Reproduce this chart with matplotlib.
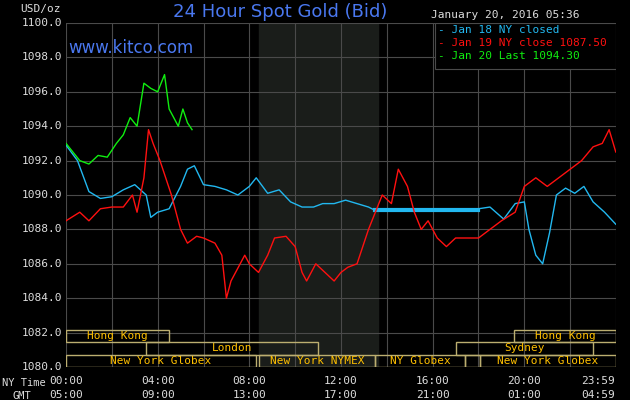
import matplotlib
matplotlib.use("Agg")
import matplotlib.pyplot as plt
from matplotlib.patches import Rectangle

# hours (NY time) and prices
blue_h = [0.0,0.5,1.0,1.5,2.0,2.5,3.0,3.5,3.7,4.0,4.5,5.0,5.3,5.6,6.0,6.5,7.0,7.5,8.0,8.3,8.8,9.3,9.8,10.3,10.8,11.2,11.7,12.2,12.7,13.2,13.5,15.0,17.0,18.0,18.5,19.1,19.6,20.0,20.2,20.5,20.8,21.1,21.4,21.8,22.2,22.6,23.0,23.5,23.99]
blue_p = [1092.9,1092.0,1090.2,1089.8,1089.9,1090.3,1090.6,1090.0,1088.7,1089.0,1089.2,1090.5,1091.5,1091.7,1090.6,1090.5,1090.3,1090.0,1090.5,1091.0,1090.1,1090.3,1089.6,1089.3,1089.3,1089.5,1089.5,1089.7,1089.5,1089.3,1089.1,1089.1,1089.1,1089.2,1089.3,1088.6,1089.5,1089.6,1088.0,1086.5,1086.0,1087.8,1090.0,1090.4,1090.1,1090.5,1089.6,1089.0,1088.3]
red_h = [0.0,0.6,1.0,1.5,2.0,2.5,2.9,3.1,3.4,3.6,3.8,4.1,4.6,5.0,5.3,5.7,6.0,6.5,6.8,7.0,7.2,7.4,7.8,8.0,8.4,8.8,9.1,9.6,10.0,10.3,10.5,10.9,11.3,11.7,12.0,12.3,12.7,13.2,13.8,14.2,14.5,14.9,15.2,15.5,15.8,16.2,16.6,17.0,18.0,18.5,19.0,19.6,20.0,20.5,21.0,21.5,22.0,22.5,23.0,23.4,23.7,23.99]
red_p = [1088.5,1089.0,1088.5,1089.2,1089.3,1089.3,1090.0,1089.0,1091.0,1093.8,1093.0,1092.0,1090.0,1088.0,1087.2,1087.6,1087.5,1087.2,1086.5,1084.0,1085.0,1085.5,1086.5,1086.0,1085.5,1086.5,1087.5,1087.6,1087.0,1085.5,1085.0,1086.0,1085.5,1085.0,1085.5,1085.8,1086.0,1088.0,1090.0,1089.5,1091.5,1090.5,1089.0,1088.0,1088.5,1087.5,1087.0,1087.5,1087.5,1088.0,1088.5,1089.0,1090.5,1091.0,1090.5,1091.0,1091.5,1092.0,1092.8,1093.0,1093.8,1092.5]
green_h = [0.0,0.3,0.6,1.0,1.4,1.8,2.2,2.5,2.8,3.1,3.4,3.7,4.0,4.3,4.5,4.7,4.9,5.1,5.3,5.5]
green_p = [1093.0,1092.5,1092.0,1091.8,1092.3,1092.2,1093.0,1093.5,1094.5,1094.0,1096.5,1096.2,1096.0,1097.0,1095.0,1094.5,1094.0,1095.0,1094.2,1093.8]

y_ticks = [1080,1082,1084,1086,1088,1090,1092,1094,1096,1098,1100]
x_ticks = [0,4,8,12,16,20,23.98]
ny_labels = ["00:00","04:00","08:00","12:00","16:00","20:00","23:59"]
gmt_labels = ["05:00","09:00","13:00","17:00","21:00","01:00","04:59"]

sessions = [("Hong Kong",0,4.5,0),("Hong Kong",19.55,24,0),("London",3.5,11.0,1),("Sydney",17.0,23.0,1),
            ("New York Globex",0,8.3,2),("New York NYMEX",8.4,13.5,2),("NY Globex",13.5,17.4,2),("",17.4,18.05,2),("New York Globex",18.05,24,2)]

fig = plt.figure(figsize=(6.3,4.0), dpi=100, facecolor="black")
ax = fig.add_axes([66/630, 33/400, 550/630, 344/400], facecolor="black")
ax.set_xlim(0,24); ax.set_ylim(1080,1100)
ax.axvspan(8.4,13.6, color="#1a1d1a", zorder=0)
for v in range(0,25,2):
    ax.axvline(v, color="#4a4a4a", lw=0.8, zorder=1)
for t in y_ticks:
    ax.axhline(t, color="#4a4a4a", lw=0.8, zorder=1)
mono = "DejaVu Sans Mono"
rows = [(1081.45,0.7),(1080.72,0.73),(1080.0,0.72)]
for lab,s,e,r in sessions:
    y0,hgt = rows[r]
    ax.add_patch(Rectangle((s,y0),e-s,hgt,fill=False,ec="#bcae70",lw=1,zorder=2))
    if lab:
        ax.text((s+e)/2,y0+hgt/2,lab,color="#ffc000",ha="center",va="center",fontsize=8,family=mono,zorder=3)
ax.plot(blue_h,blue_p,color="#22b8f0",lw=1,zorder=4)
ax.plot([13.5,18.0],[1089.1,1089.1],color="#22b8f0",lw=3,zorder=4)
ax.plot(red_h,red_p,color="#ff1010",lw=1,zorder=5)
ax.plot(green_h,green_p,color="#10ee10",lw=1,zorder=6)
ax.set_xticks([]); ax.set_yticks([])
for s in ax.spines.values(): s.set_visible(False)
for t in y_ticks:
    ax.text(-0.15,t,f"{t:.1f}",color="#dddddd",ha="right",va="center",fontsize=8,family=mono)
for i,(x,a,b) in enumerate(zip(x_ticks,ny_labels,gmt_labels)):
    ha = "right" if i == len(x_ticks)-1 else "center"
    xx = 23.95 if i == len(x_ticks)-1 else x
    ax.text(xx,1079.5,a,color="#dddddd",ha=ha,va="top",fontsize=8,family=mono)
    ax.text(xx,1078.65,b,color="#dddddd",ha=ha,va="top",fontsize=8,family=mono)
fig.text(2/630,1-383/400,"NY Time",color="#dddddd",fontsize=7.5,family=mono,va="center")
fig.text(12/630,1-396/400,"GMT",color="#dddddd",fontsize=7.5,family=mono,va="center")
fig.text(20/630,1-9/400,"USD/oz",color="#dddddd",fontsize=8,family=mono,va="center")
fig.text(280/630,1-12/400,"24 Hour Spot Gold (Bid)",color="#4a78f0",fontsize=13,ha="center",va="center")
fig.text(505/630,1-15/400,"January 20, 2016 05:36",color="#dddddd",fontsize=8,family=mono,ha="center",va="center")
fig.text(68/630,1-48/400,"www.kitco.com",color="#4a78f0",fontsize=12,va="center")
ax.add_patch(Rectangle((16.1,1097.3),7.9,2.7,fill=True,fc="black",ec="#4a4a4a",lw=0.8,zorder=7))
leg = [("- Jan 18 NY closed","#22b8f0"),("- Jan 19 NY close 1087.50","#ff1010"),("- Jan 20 Last 1094.30","#10ee10")]
for i,(t,c) in enumerate(leg):
    ax.text(16.25,1099.6-i*0.75,t,color=c,fontsize=8,family=mono,va="center",zorder=8)
fig.savefig("out.png",dpi=100,facecolor="black")
